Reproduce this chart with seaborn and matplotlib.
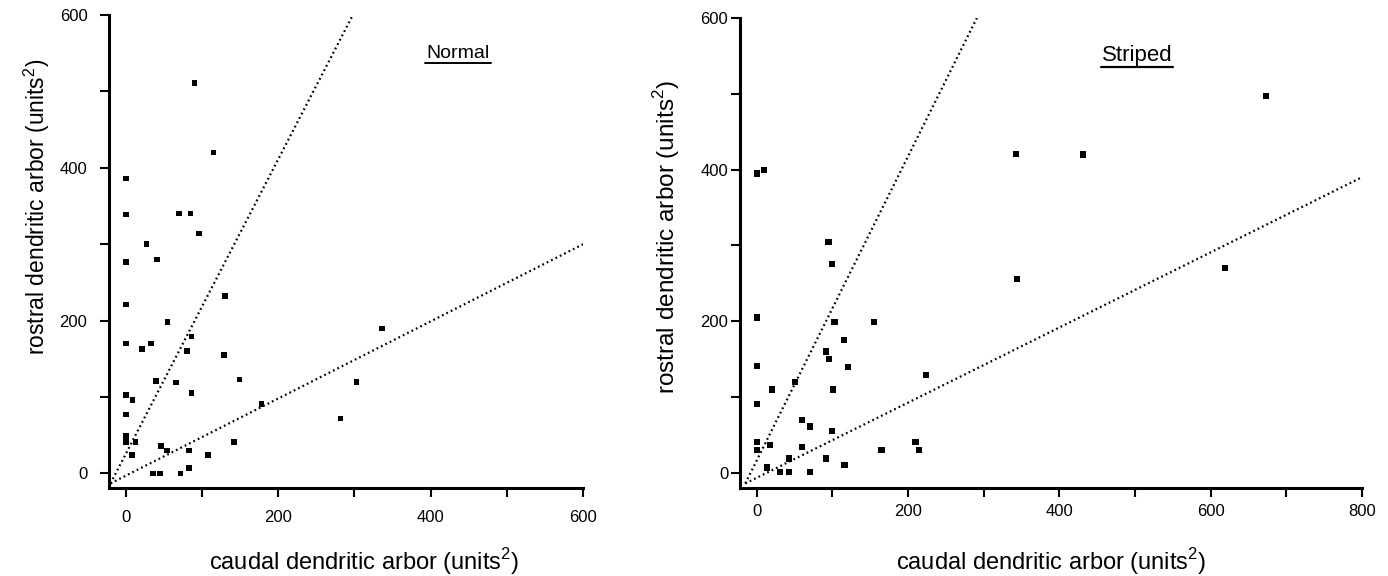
import matplotlib
matplotlib.use("Agg")
import matplotlib.pyplot as plt
import seaborn as sns
import pandas as pd
from matplotlib.lines import Line2D

# ---------------- data ----------------
normal_caudal = [96, 27, 0, 41, 0, 130, 55, 0, 33, 21, 86, 80, 129, 40, 66, 149,
                 86, 0, 9, 0, 0, 0, 13, 8, 46, 54, 83, 36, 45, 72, 83, 108, 142,
                 178, 282, 303, 336, 90, 115, 0, 0, 70, 85]
normal_rostral = [314, 300, 277, 280, 221, 232, 198, 170, 170, 163, 179, 160, 155,
                  121, 119, 123, 105, 103, 96, 77, 49, 41, 41, 24, 36, 30, 30, 0, 0,
                  0, 7, 24, 41, 91, 72, 120, 190, 511, 420, 386, 339, 340, 340]

striped_caudal = [100, 0, 103, 155, 115, 92, 96, 121, 0, 224, 51, 20, 101, 0, 60,
                  71, 100, 0, 18, 60, 0, 165, 210, 215, 43, 92, 14, 31, 43, 70, 116,
                  0, 10, 95, 673, 343, 431, 344, 619]
striped_rostral = [275, 205, 199, 199, 175, 160, 150, 140, 141, 129, 120, 110, 110,
                   91, 70, 61, 55, 41, 37, 34, 30, 30, 41, 30, 19, 19, 7, 1, 1, 1, 10,
                   395, 400, 305, 497, 421, 420, 256, 270]

# dotted guide lines (ratio 2:1 and 1:2)
normal_steep_x = [-20, 298]
normal_steep_y = [-13, 600]
normal_shallow_x = [-20, 600]
normal_shallow_y = [-13, 300]
striped_steep_x = [-15, 292]
striped_steep_y = [-14, 602]
striped_shallow_x = [-15, 800]
striped_shallow_y = [-14, 390]

y_ticks = [0, 100, 200, 300, 400, 500, 600]
y_ticklabels = ["0", "", "200", "", "400", "", "600"]
normal_x_ticks = [0, 100, 200, 300, 400, 500, 600]
normal_x_ticklabels = ["0", "", "200", "", "400", "", "600"]
striped_x_ticks = [0, 100, 200, 300, 400, 500, 600, 700, 800]
striped_x_ticklabels = ["0", "", "200", "", "400", "", "600", "", "800"]

panel_titles = ["Normal", "Striped"]
x_label = "caudal dendritic arbor (units$^2$)"
y_label = "rostral dendritic arbor (units$^2$)"

# ---------------- styling ----------------
sns.set_theme(style="ticks")
plt.rcParams['font.family'] = ['Liberation Sans', 'DejaVu Sans']
plt.rcParams['mathtext.fontset'] = 'custom'
plt.rcParams['mathtext.rm'] = 'Liberation Sans'

W, H = 1388, 576
fig = plt.figure(figsize=(W / 100, H / 100), dpi=100)
fig.patch.set_facecolor("white")

axL = fig.add_axes([109 / W, 1 - 488 / H, 474 / W, 473 / H])
axR = fig.add_axes([740 / W, 1 - 488 / H, 622 / W, 470 / H])

dfN = pd.DataFrame({"caudal": normal_caudal, "rostral": normal_rostral})
dfS = pd.DataFrame({"caudal": striped_caudal, "rostral": striped_rostral})

panels = [
    (axL, dfN, normal_steep_x, normal_steep_y, normal_shallow_x, normal_shallow_y,
     normal_x_ticks, normal_x_ticklabels, (-22, 600), (-19, 600), 16, 12, 16.5, 17, 9, 9),
    (axR, dfS, striped_steep_x, striped_steep_y, striped_shallow_x, striped_shallow_y,
     striped_x_ticks, striped_x_ticklabels, (-22, 800), (-20, 600), 20, 12, 17.5, 17, 2, 5),
]

for (ax, df, sx, sy, hx, hy, xt, xtl, xlim, ylim, msize, tfs, ylfs, xlfs, ypad, xpad) in panels:
    ax.set_facecolor("white")
    sns.lineplot(x=sx, y=sy, ax=ax, color="black", lw=1.6,
                 linestyle=(0, (0.8, 1.4)), sort=False, estimator=None)
    sns.lineplot(x=hx, y=hy, ax=ax, color="black", lw=1.6,
                 linestyle=(0, (0.8, 1.4)), sort=False, estimator=None)
    sns.scatterplot(data=df, x="caudal", y="rostral", ax=ax, marker="s",
                    color="black", s=msize, edgecolor="none", linewidth=0,
                    legend=False, zorder=3)
    ax.set_xlim(*xlim)
    ax.set_ylim(*ylim)
    ax.set_xticks(xt)
    ax.set_xticklabels(xtl)
    ax.set_yticks(y_ticks)
    ax.set_yticklabels(y_ticklabels)
    for side in ["top", "right"]:
        ax.spines[side].set_visible(False)
    for side in ["left", "bottom"]:
        ax.spines[side].set_linewidth(2.2)
        ax.spines[side].set_color("black")
    ax.tick_params(axis="both", direction="out", length=6.5, width=1.5,
                   colors="black", labelsize=tfs)
    ax.tick_params(axis="y", pad=ypad)
    ax.tick_params(axis="x", pad=xpad)
    ax.set_xlabel(x_label, fontsize=xlfs, color="black")
    ax.set_ylabel(y_label, fontsize=ylfs, color="black")
    ax.grid(False)

axL.yaxis.set_label_coords((52 - 109) / 474, (488 - 207) / 473)
axL.xaxis.set_label_coords((364 - 109) / 474, (488 - 546) / 473)
axR.yaxis.set_label_coords((682 - 740) / 622, (488 - 237) / 470)
axR.xaxis.set_label_coords(0.5, (488 - 546) / 470)

# underlined panel titles
tN = fig.text(458 / W, 1 - 53 / H, panel_titles[0], ha="center", va="center",
              fontsize=14, color="black")
tS = fig.text(1137 / W, 1 - 55 / H, panel_titles[1], ha="center", va="center",
              fontsize=16, color="black")
fig.canvas.draw()
r = fig.canvas.get_renderer()
inv = fig.transFigure.inverted()
for t, lw in [(tN, 1.4), (tS, 1.6)]:
    bb = t.get_window_extent(renderer=r)
    (x0, y0) = inv.transform((bb.x0 - 1, bb.y0 - 1))
    (x1, _) = inv.transform((bb.x1 + 1, bb.y0 - 1))
    fig.add_artist(Line2D([x0, x1], [y0, y0], transform=fig.transFigure,
                          color="black", lw=lw))

fig.savefig("out.png", dpi=100, facecolor="white")
